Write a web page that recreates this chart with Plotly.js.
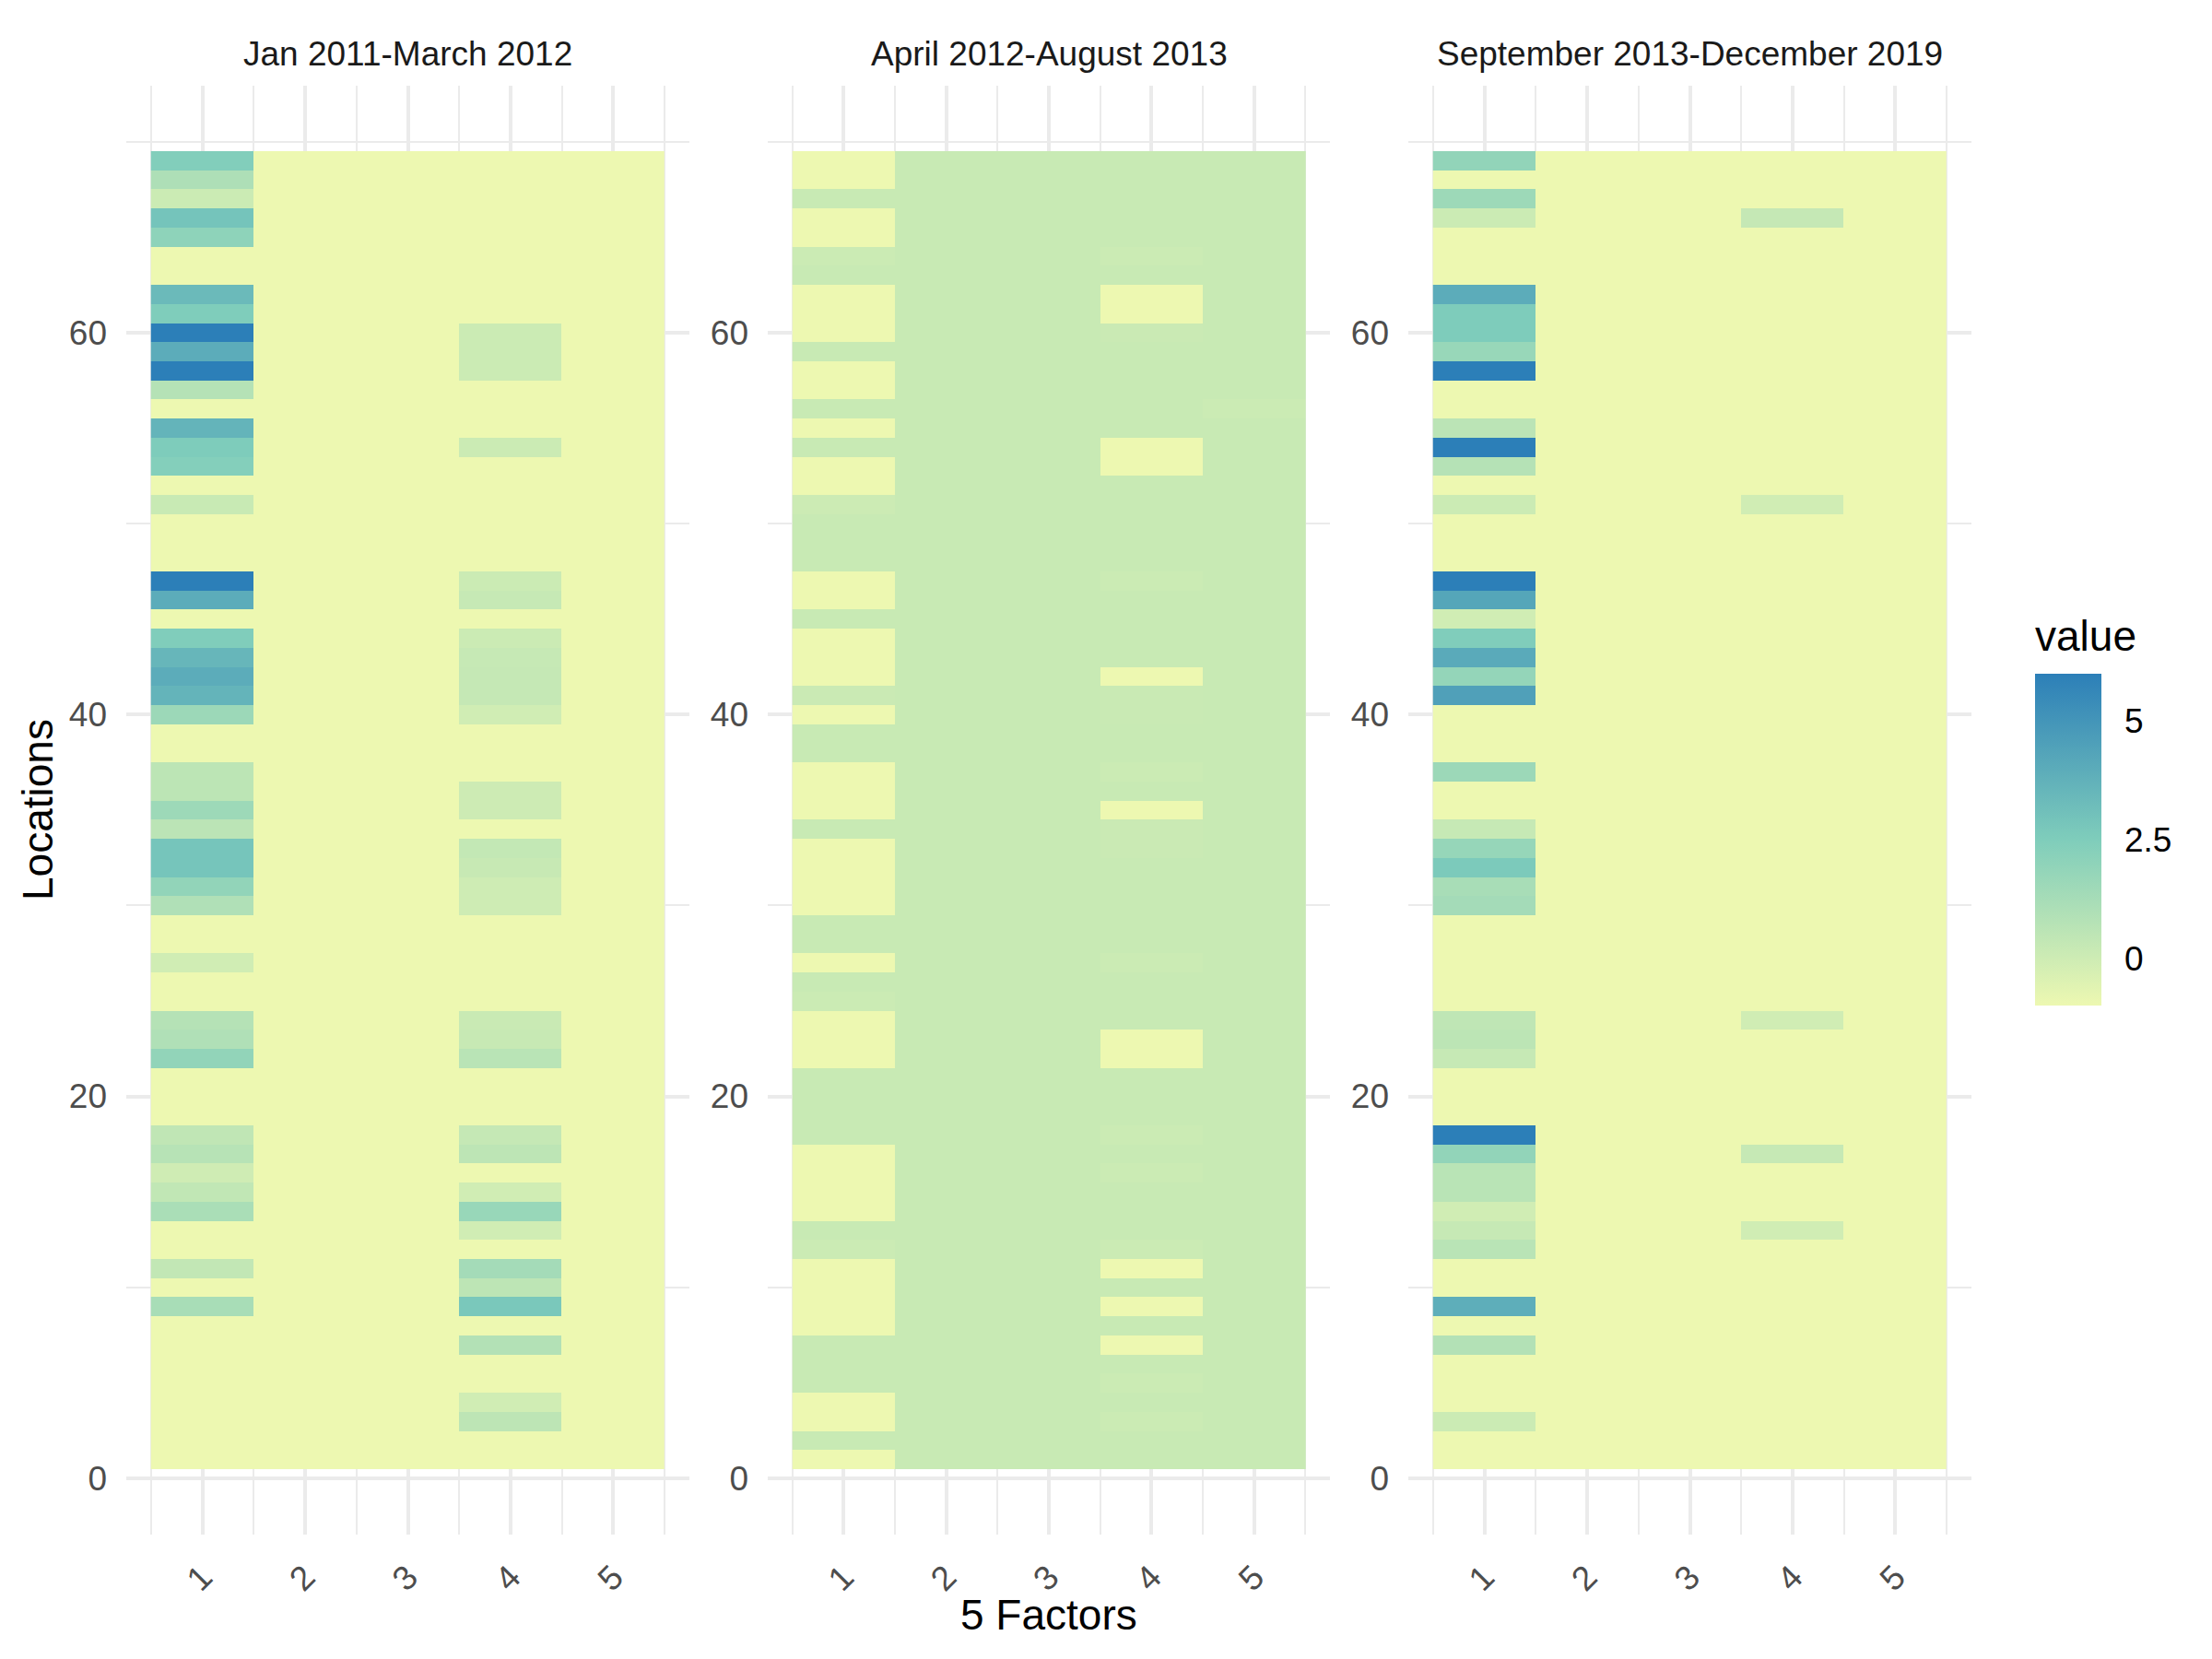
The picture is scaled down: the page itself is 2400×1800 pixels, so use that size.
<!DOCTYPE html>
<html><head><meta charset="utf-8">
<script src="https://cdn.plot.ly/plotly-3.0.1.min.js"></script>
<style>html,body{margin:0;padding:0;background:#fff}</style>
</head><body><div id="chart" style="width:2400px;height:1800px"></div>
<script>
const facets = ['Jan 2011-March 2012','April 2012-August 2013','September 2013-December 2019'];
const factors = [1,2,3,4,5];
const factorLabels = ['1','2','3','4','5'];
const locations = [1,2,3,4,5,6,7,8,9,10,11,12,13,14,15,16,17,18,19,20,21,22,23,24,25,26,27,28,29,30,31,32,33,34,35,36,37,38,39,40,41,42,43,44,45,46,47,48,49,50,51,52,53,54,55,56,57,58,59,60,61,62,63,64,65,66,67,68,69];

// Panel 1: Jan 2011-March 2012 (values for locations 1..69)
const p1_f1 = [-1,-1,-1,-1,-1,-1,-1,-1, 1.2,-1,0.37,-1,-1,1.13,0.4,-0.05,0.72,0.43,-1,-1, -1,1.9,0.94,0.78,-1,-1,-0.08,-1,-1,0.94, 1.9,2.88,2.88,0.59,1.55,0.56,0.56,-1,-1,1.58, 3.64,3.98,3.51,2.47,-1,3.98,6.0,-1,-1,-1, 0.18,-1,2.34,2.55,3.64,-1,0.78,6.0,3.98,6.0, 2.5,3.34,-1,-1,2.02,2.92,0.08,1.0,2.4];
const p1_f2 = [-1,-1,-1,-1,-1,-1,-1,-1,-1,-1, -1,-1,-1,-1,-1,-1,-1,-1,-1,-1, -1,-1,-1,-1,-1,-1,-1,-1,-1,-1, -1,-1,-1,-1,-1,-1,-1,-1,-1,-1, -1,-1,-1,-1,-1,-1,-1,-1,-1,-1, -1,-1,-1,-1,-1,-1,-1,-1,-1,-1, -1,-1,-1,-1,-1,-1,-1,-1,-1];
const p1_f3 = [-1,-1,-1,-1,-1,-1,-1,-1,-1,-1, -1,-1,-1,-1,-1,-1,-1,-1,-1,-1, -1,-1,-1,-1,-1,-1,-1,-1,-1,-1, -1,-1,-1,-1,-1,-1,-1,-1,-1,-1, -1,-1,-1,-1,-1,-1,-1,-1,-1,-1, -1,-1,-1,-1,-1,-1,-1,-1,-1,-1, -1,-1,-1,-1,-1,-1,-1,-1,-1];
const p1_f4 = [-1,-1,0.53,-0.08,-1,-1,0.85,-1,2.71,0.53, 1.32,-1,-0.08,1.7,-0.08,-1,0.53,0.27,-1,-1, -1,0.65,0.21,0.15,-1,-1,-1,-1,-1,-0.01, -0.01,0.21,0.34,-1,0.02,0.02,-1,-1,-1,-0.08, 0.27,0.27,0.24,0.08,-1,0.24,0.08,-1,-1,-1, -1,-1,-1,0.08,-1,-1,-1,0.08,0.08,0.08, -1,-1,-1,-1,-1,-1,-1,-1,-1];
const p1_f5 = [-1,-1,-1,-1,-1,-1,-1,-1,-1,-1, -1,-1,-1,-1,-1,-1,-1,-1,-1,-1, -1,-1,-1,-1,-1,-1,-1,-1,-1,-1, -1,-1,-1,-1,-1,-1,-1,-1,-1,-1, -1,-1,-1,-1,-1,-1,-1,-1,-1,-1, -1,-1,-1,-1,-1,-1,-1,-1,-1,-1, -1,-1,-1,-1,-1,-1,-1,-1,-1];

// Panel 2: April 2012-August 2013
const p2_f1 = [-1,0.18,-1,-1,0.18,0.18,0.18,-1,-1,-1, -1,0.08,0.18,-1,-1,-1,-1,0.18,0.18,0.18, 0.18,-1,-1,-1,0.08,0.18,-1,0.18,0.18,-1, -1,-1,-1,0.18,-1,-1,-1,0.18,0.18,-1, 0.1,-1,-1,-1,0.18,-1,-1,0.18,0.18,0.18, 0.05,-1,-1,0.18,-1,0.18,-1,-1,0.18,-1, -1,-1,0.18,0.08,-1,-1,0.18,-1,-1];
const p2_f2 = [0.18,0.18,0.18,0.18,0.18,0.18,0.18,0.18,0.18,0.18, 0.18,0.18,0.18,0.18,0.18,0.18,0.18,0.18,0.18,0.18, 0.18,0.18,0.18,0.18,0.18,0.18,0.18,0.18,0.18,0.18, 0.18,0.18,0.18,0.18,0.18,0.18,0.18,0.18,0.18,0.18, 0.18,0.18,0.18,0.18,0.18,0.18,0.18,0.18,0.18,0.18, 0.18,0.18,0.18,0.18,0.18,0.18,0.18,0.18,0.18,0.18, 0.18,0.18,0.18,0.18,0.18,0.18,0.18,0.18,0.18];
const p2_f3 = [0.18,0.18,0.18,0.18,0.18,0.18,0.18,0.18,0.18,0.18, 0.18,0.18,0.18,0.18,0.18,0.18,0.18,0.18,0.18,0.18, 0.18,0.18,0.18,0.18,0.18,0.18,0.18,0.18,0.18,0.18, 0.18,0.18,0.18,0.18,0.18,0.18,0.18,0.18,0.18,0.18, 0.18,0.18,0.18,0.18,0.18,0.18,0.18,0.18,0.18,0.18, 0.18,0.18,0.18,0.18,0.18,0.18,0.18,0.18,0.18,0.18, 0.18,0.18,0.18,0.18,0.18,0.18,0.18,0.18,0.18];
const p2_f4 = [0.18,0.18,0.08,0.18,0.08,0.18,-1,0.18,-1,0.18, -1,0.08,0.18,0.18,0.18,0.08,0.18,0.08,0.18,0.18, 0.18,-1,-1,0.18,0.18,0.18,0.08,0.18,0.18,0.18, 0.18,0.18,0.1,0.1,-1,0.18,0.08,0.18,0.18,0.13, 0.13,-1,0.18,0.18,0.18,0.18,0.08,0.18,0.18,0.18, 0.18,0.18,-1,-1,0.18,0.18,0.18,0.18,0.18,0.1, -1,-1,0.18,0.08,0.18,0.18,0.18,0.18,0.18];
const p2_f5 = [0.18,0.18,0.18,0.18,0.18,0.18,0.18,0.18,0.18,0.18, 0.18,0.18,0.18,0.18,0.18,0.18,0.18,0.18,0.18,0.18, 0.18,0.18,0.18,0.18,0.18,0.18,0.18,0.18,0.18,0.18, 0.18,0.18,0.18,0.18,0.18,0.18,0.18,0.18,0.18,0.18, 0.18,0.18,0.18,0.18,0.18,0.18,0.18,0.18,0.18,0.18, 0.18,0.18,0.18,0.18,0.18,0.08,0.18,0.18,0.18,0.18, 0.18,0.18,0.18,0.18,0.18,0.18,0.18,0.18,0.18];

// Panel 3: September 2013-December 2019
const p3_f1 = [-1,-1,0.08,-1,-1,-1,0.85,-1,3.9,-1, -1,0.65,0.24,-0.08,0.65,0.65,1.9,6.0,-1,-1, -1,0.24,0.56,0.46,-1,-1,-1,-1,-1,1.32, 1.2,2.63,1.77,0.24,-1,-1,1.58,-1,-1,-1, 4.5,1.83,4.06,2.47,-0.08,4.27,6.0,-1,-1,-1, 0.08,-1,0.78,6.0,0.59,-1,-1,6.0,1.7,2.55, 2.55,3.98,-1,-1,-1,0.08,1.55,-1,1.9];
const p3_f2 = [-1,-1,-1,-1,-1,-1,-1,-1,-1,-1, -1,-1,-1,-1,-1,-1,-1,-1,-1,-1, -1,-1,-1,-1,-1,-1,-1,-1,-1,-1, -1,-1,-1,-1,-1,-1,-1,-1,-1,-1, -1,-1,-1,-1,-1,-1,-1,-1,-1,-1, -1,-1,-1,-1,-1,-1,-1,-1,-1,-1, -1,-1,-1,-1,-1,-1,-1,-1,-1];
const p3_f3 = [-1,-1,-1,-1,-1,-1,-1,-1,-1,-1, -1,-1,-1,-1,-1,-1,-1,-1,-1,-1, -1,-1,-1,-1,-1,-1,-1,-1,-1,-1, -1,-1,-1,-1,-1,-1,-1,-1,-1,-1, -1,-1,-1,-1,-1,-1,-1,-1,-1,-1, -1,-1,-1,-1,-1,-1,-1,-1,-1,-1, -1,-1,-1,-1,-1,-1,-1,-1,-1];
const p3_f4 = [-1,-1,-1,-1,-1,-1,-1,-1,-1,-1, -1,-1,-0.08,-1,-1,-1,0.24,-1,-1,-1, -1,-1,-1,-0.08,-1,-1,-1,-1,-1,-1, -1,-1,-1,-1,-1,-1,-1,-1,-1,-1, -1,-1,-1,-1,-1,-1,-1,-1,-1,-1, -0.08,-1,-1,-1,-1,-1,-1,-1,-1,-1, -1,-1,-1,-1,-1,0.27,-1,-1,-1];
const p3_f5 = [-1,-1,-1,-1,-1,-1,-1,-1,-1,-1, -1,-1,-1,-1,-1,-1,-1,-1,-1,-1, -1,-1,-1,-1,-1,-1,-1,-1,-1,-1, -1,-1,-1,-1,-1,-1,-1,-1,-1,-1, -1,-1,-1,-1,-1,-1,-1,-1,-1,-1, -1,-1,-1,-1,-1,-1,-1,-1,-1,-1, -1,-1,-1,-1,-1,-1,-1,-1,-1];

const panels = [
  [p1_f1,p1_f2,p1_f3,p1_f4,p1_f5],
  [p2_f1,p2_f2,p2_f3,p2_f4,p2_f5],
  [p3_f1,p3_f2,p3_f3,p3_f4,p3_f5]
];

const FONT = 'Liberation Sans, Arial, Helvetica, sans-serif';
const GRID = '#EBEBEB';

function buildZ(cols){
  return locations.map((_, i) => cols.map(c => c[i]));
}

const traces = panels.map((cols, k) => ({
  type: 'heatmap',
  x: factors,
  y: locations,
  z: buildZ(cols),
  coloraxis: 'coloraxis',
  xaxis: k === 0 ? 'x' : 'x' + (k + 1),
  yaxis: k === 0 ? 'y' : 'y' + (k + 1),
  hoverinfo: 'skip'
}));

const xDomains = [[137/2400, 748/2400],[833/2400, 1443/2400],[1528/2400, 2139/2400]];
const yDomain = [1 - 1665/1800, 1 - 92.5/1800];

function xAxis(k){
  return {
    domain: xDomains[k], anchor: k === 0 ? 'y' : 'y' + (k + 1),
    range: [0.26, 5.74], tickmode: 'array', tickvals: factors, ticktext: factorLabels,
    tickangle: -45, showgrid: true, gridcolor: GRID, gridwidth: 4,
    zeroline: false, showline: false, ticks: '',
    tickfont: {family: FONT, size: 37, color: '#4D4D4D'},
    ticklabelstandoff: 16,
    minor: {tick0: 0.5, dtick: 0.5, showgrid: true, gridcolor: GRID, gridwidth: 2},
    fixedrange: true, automargin: false
  };
}
function yAxis(k){
  return {
    domain: yDomain, anchor: k === 0 ? 'x' : 'x' + (k + 1),
    range: [-2.95, 72.95], tick0: 0, dtick: 20,
    showgrid: true, gridcolor: GRID, gridwidth: 4,
    zeroline: false, showline: false, ticks: '',
    tickfont: {family: FONT, size: 37, color: '#4D4D4D'},
    ticklabelstandoff: 20,
    minor: {tick0: 0, dtick: 10, showgrid: true, gridcolor: GRID, gridwidth: 2},
    fixedrange: true, automargin: false
  };
}

const panelCenters = xDomains.map(d => (d[0] + d[1]) / 2);

const annotations = facets.map((t, k) => ({
  text: t, xref: 'paper', yref: 'paper', x: panelCenters[k], y: 1 - 58/1800,
  xanchor: 'center', yanchor: 'middle', showarrow: false,
  font: {family: FONT, size: 37, color: '#1A1A1A'}
}));
annotations.push({
  text: '5 Factors', xref: 'paper', yref: 'paper', x: 1138/2400, y: 1 - 1752/1800,
  xanchor: 'center', yanchor: 'middle', showarrow: false,
  font: {family: FONT, size: 46, color: '#000000'}
});
annotations.push({
  text: 'Locations', xref: 'paper', yref: 'paper', x: 41/2400, y: 1 - 879/1800,
  xanchor: 'center', yanchor: 'middle', showarrow: false, textangle: -90,
  font: {family: FONT, size: 46, color: '#000000'}
});
annotations.push({
  text: 'value', xref: 'paper', yref: 'paper', x: 2206/2400, y: 1 - 690/1800,
  xanchor: 'left', yanchor: 'middle', showarrow: false,
  font: {family: FONT, size: 46, color: '#000000'}
});

const layout = {
  width: 2400, height: 1800,
  margin: {l: 0, r: 0, t: 0, b: 0},
  paper_bgcolor: '#FFFFFF', plot_bgcolor: '#FFFFFF',
  showlegend: false,
  font: {family: FONT},
  xaxis: xAxis(0), xaxis2: xAxis(1), xaxis3: xAxis(2),
  yaxis: yAxis(0), yaxis2: yAxis(1), yaxis3: yAxis(2),
  coloraxis: {
    cmin: -1.0, cmax: 6.0,
    colorscale: [[0, '#EDF8B1'], [0.5, '#7FCDBB'], [1, '#2C7FB8']],
    colorbar: {
      x: 2208/2400, xanchor: 'left', xref: 'paper',
      y: 1 - 911/1800, yanchor: 'middle', yref: 'paper',
      thickness: 72, thicknessmode: 'pixels',
      len: 360, lenmode: 'pixels',
      xpad: 0, ypad: 0, outlinewidth: 0,
      tickmode: 'array', tickvals: [0, 2.5, 5], ticktext: ['0', '2.5', '5'],
      ticks: 'outside', ticklen: 18, tickcolor: 'rgba(0,0,0,0)',
      tickfont: {family: FONT, size: 37, color: '#000000'}
    }
  },
  annotations: annotations
};

Plotly.newPlot('chart', traces, layout, {displayModeBar: false, staticPlot: true});
</script>
</body></html>
